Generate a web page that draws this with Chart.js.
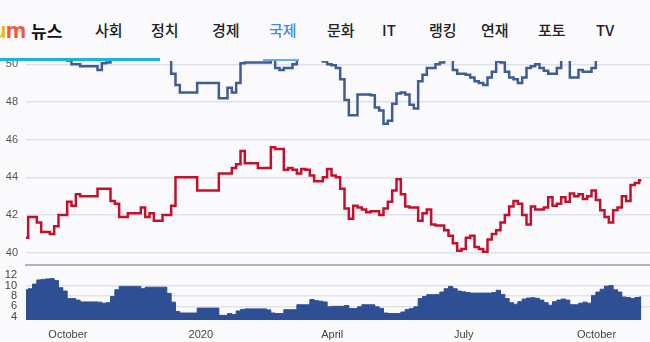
<!DOCTYPE html>
<html lang="ko">
<head>
<meta charset="utf-8">
<title>국제 - 지지율 추이</title>
<script src="https://cdn.jsdelivr.net/npm/chart.js@4"></script>
<style>
  body { margin: 0; width: 650px; height: 342px; overflow: hidden; background: #fafafd; position: relative; font-family: "Noto Sans CJK KR", "Noto Sans", sans-serif; }
  canvas { position: absolute; left: 0; }
  #main { top: 0; }
  #spread { top: 264px; }
  #gnb { position: absolute; top: 0; left: 0; width: 650px; height: 61px; background: #fafafd; z-index: 5; }
  #gnb .logo { position: absolute; left: -7px; top: 16px; font: bold 21px "Noto Sans", sans-serif; letter-spacing: -1px; }
  #gnb .home { position: absolute; left: 31px; top: 18px; font-size: 17px; font-weight: 700; color: #111; }
  #gnb a { position: absolute; top: 19px; font-size: 15px; font-weight: 500; color: #222; text-decoration: none; }
  #gnb a.on { color: #3a8ee6; }
  #gnb .bar { position: absolute; left: 0; top: 58px; width: 160px; height: 3px; background: #1bb5d8; }
  #gnb .line { position: absolute; left: 263px; top: 59px; width: 36px; height: 2px; background: #6aa8f0; }
</style>
</head>
<body>
<div id="gnb">
  <span class="logo"><span style="color:#e9c10f">u</span><span style="color:#f2583a">m</span></span>
  <span class="home">뉴스</span>
  <a style="left:95px">사회</a>
  <a style="left:151px">정치</a>
  <a style="left:212px">경제</a>
  <a class="on" style="left:269px">국제</a>
  <a style="left:327px">문화</a>
  <a style="left:382px">IT</a>
  <a style="left:429px">랭킹</a>
  <a style="left:481px">연재</a>
  <a style="left:538px">포토</a>
  <a style="left:596px">TV</a>
  <i class="bar"></i><i class="line"></i>
</div>
<canvas id="main" width="650" height="266"></canvas>
<canvas id="spread" width="650" height="78"></canvas>
<script>
// 3일 간격 여론조사 평균 (2019-09-02 시작)
const stepDays = 3;

const approve = [
  40.8, 41.9, 41.9, 41.6, 41.1, 41.1, 41.0, 41.4, 42.0, 42.0,
  42.7, 42.5, 43.1, 43.0, 43.0, 43.0, 43.0, 43.4, 43.4, 43.4,
  42.75, 42.6, 41.9, 41.9, 42.1, 42.1, 42.1, 42.4, 41.9, 42.1,
  41.7, 41.7, 42.0, 42.0, 42.5, 44.0, 44.0, 44.0, 44.0, 44.0,
  43.3, 43.3, 43.3, 43.3, 43.3, 44.2, 44.2, 44.2, 44.5, 44.7,
  45.4, 44.75, 44.75, 44.75, 44.5, 44.5, 44.5, 45.6, 45.5, 45.5,
  44.4, 44.5, 44.4, 44.2, 44.45, 44.4, 44.1, 43.8, 43.8, 44.0,
  44.45, 44.1, 44.0, 43.4, 42.35, 41.8, 42.5, 42.4, 42.3, 42.15,
  42.2, 42.2, 42.0, 42.35, 42.7, 43.3, 43.9, 43.1, 42.45, 42.4,
  42.4, 41.7, 42.1, 42.3, 41.5, 41.45, 41.45, 41.2, 40.9, 40.5,
  40.1, 40.2, 40.8, 40.9, 40.3, 40.2, 40.05, 40.7, 41.0, 41.2,
  41.6, 42.0, 42.45, 42.75, 42.6, 42.0, 41.5, 42.45, 42.3, 42.3,
  42.4, 42.95, 42.5, 42.6, 42.95, 42.7, 43.15, 43.0, 43.1, 42.85,
  43.0, 43.3, 42.8, 42.25, 41.9, 41.6, 42.25, 42.4, 43.0, 42.75,
  43.6, 43.7, 43.85
];

const disapprove = [
  50.6, 51.3, 52.2, 52.7, 52.3, 52.4, 52.35, 52.4, 51.6, 50.95,
  50.2, 50.0, 50.0, 49.9, 49.9, 49.9, 49.9, 49.7, 50.05, 50.1,
  50.65, 51.8, 51.75, 51.75, 51.95, 51.95, 51.95, 51.8, 51.6, 51.8,
  51.4, 51.4, 51.7, 50.5, 49.5, 48.9, 48.5, 48.5, 48.5, 48.5,
  49.0, 49.0, 49.0, 49.0, 49.0, 48.2, 48.2, 48.75, 48.5, 49.0,
  50.05, 50.1, 50.1, 50.1, 50.1, 50.1, 50.1, 50.3, 49.8, 49.7,
  49.8, 49.8, 50.0, 50.5, 50.75, 50.7, 51.4, 50.9, 50.8, 50.15,
  50.0, 49.95, 49.8, 49.2, 48.1, 47.3, 47.3, 48.4, 48.4, 48.4,
  48.35, 47.7, 47.55, 46.85, 47.0, 47.9, 48.45, 48.5, 48.4, 47.85,
  47.65, 49.1, 49.45, 49.8, 49.8, 50.0, 50.1, 50.6, 50.75, 49.7,
  49.5, 49.5, 49.45, 49.3, 49.1, 49.0, 48.9, 49.3, 49.6, 50.15,
  50.1, 49.6, 49.3, 49.2, 49.0, 49.3, 49.8, 49.9, 50.0, 49.8,
  49.65, 49.5, 49.5, 49.8, 50.35, 50.3, 49.3, 49.3, 49.7, 49.6,
  49.6, 49.8, 51.55, 51.55, 51.8, 51.6, 51.45, 51.15, 50.8, 50.45,
  51.1, 51.4, 51.6
];

const spread = [
  9.2, 9.4, 10.3, 11.1, 11.2, 11.3, 11.35, 11.0, 9.6, 8.95,
  7.5, 7.5, 7.2, 6.85, 6.85, 6.85, 6.85, 6.8, 6.6, 6.7,
  7.9, 9.2, 9.85, 9.85, 9.85, 9.85, 9.85, 9.4, 9.7, 9.7,
  9.7, 9.7, 9.7, 8.5, 6.8, 5.0, 4.7, 4.7, 4.7, 4.7,
  5.65, 5.65, 5.65, 5.65, 5.65, 4.25, 4.25, 4.6, 4.4, 5.1,
  5.4, 5.5, 5.5, 5.5, 5.5, 5.5, 5.3, 4.7, 4.6, 4.6,
  5.35, 5.35, 5.35, 6.3, 6.3, 6.3, 7.3, 7.1, 7.0, 6.85,
  5.9, 6.0, 6.0, 6.0, 6.15, 5.55, 5.55, 5.9, 6.3, 6.3,
  6.3, 5.9, 5.6, 4.7, 4.6, 4.6, 4.6, 4.9, 5.4, 5.55,
  5.9, 7.5, 7.9, 8.25, 8.25, 8.3, 8.75, 9.4, 9.85, 9.4,
  8.95, 8.8, 8.65, 8.55, 8.55, 8.55, 8.55, 8.55, 8.65, 9.1,
  8.3, 7.5, 6.7, 6.4, 6.9, 7.4, 7.6, 7.65, 7.55, 7.2,
  6.7, 6.2, 6.9, 7.2, 7.4, 7.2, 6.3, 6.3, 6.6, 6.8,
  6.6, 8.1, 8.75, 9.3, 9.9, 10.0, 9.2, 8.75, 7.8, 7.7,
  7.5, 7.7, 7.8
];

// 눈금 (x는 시작일로부터의 일수)
const tickDays = [29, 121, 212, 303, 395];
const tickLabels = ['October', '2020', 'April', 'July', 'October'];
const mainTicks = [40, 42, 44, 46, 48, 50, 52];
const spreadTicks = [4, 6, 8, 10, 12];

Chart.defaults.font.family = '"Liberation Sans", Arial, sans-serif';
Chart.defaults.animation = false;

const toPoints = arr => arr.map((v, i) => ({ x: i * stepDays, y: v }));

// 축 크기 고정 (라벨 여백이 차트 영역을 밀지 않도록)
const fixY = w => s => { s.width = w; s.paddingTop = 0; s.paddingBottom = 0; };
const fixX = h => s => { s.height = h; s.paddingLeft = 0; s.paddingRight = 0; };

new Chart(document.getElementById('main'), {
  type: 'line',
  data: {
    datasets: [
      { data: toPoints(disapprove), borderColor: '#3f5c93', borderWidth: 2.5, pointRadius: 0, stepped: 'middle' },
      { data: toPoints(approve), borderColor: '#c4102c', borderWidth: 2.5, pointRadius: 0, stepped: 'middle' }
    ]
  },
  options: {
    responsive: false,
    plugins: { legend: { display: false }, tooltip: { enabled: false } },
    scales: {
      x: {
        type: 'linear', min: 0, max: 432,
        ticks: { display: false },
        grid: { display: false, drawTicks: false },
        border: { color: '#b4b4bc', width: 2 },
        afterFit: fixX(1)
      },
      y: {
        min: 39.35, max: 53.41,
        afterBuildTicks: s => { s.ticks = mainTicks.map(v => ({ value: v })); },
        afterFit: fixY(26),
        ticks: { color: '#555', font: { size: 11 }, padding: 8, autoSkip: false },
        grid: { color: '#e0e0ea', lineWidth: 1.5, drawTicks: false },
        border: { display: false }
      }
    }
  }
});

new Chart(document.getElementById('spread'), {
  type: 'line',
  data: {
    datasets: [{
      data: toPoints(spread),
      borderColor: '#2f4f94', backgroundColor: '#2f4f94',
      borderWidth: 1, fill: 'start', pointRadius: 0, stepped: 'middle'
    }]
  },
  options: {
    responsive: false,
    plugins: { legend: { display: false }, tooltip: { enabled: false } },
    scales: {
      x: {
        type: 'linear', min: 0, max: 432,
        afterBuildTicks: s => { s.ticks = tickDays.map(v => ({ value: v })); },
        afterFit: fixX(22),
        ticks: {
          callback: (v, i) => tickLabels[i],
          color: '#444', font: { size: 11 }, padding: 8, maxRotation: 0, autoSkip: false
        },
        grid: { display: false, drawTicks: false },
        border: { display: false }
      },
      y: {
        min: 3.35, max: 14.18,
        afterBuildTicks: s => { s.ticks = spreadTicks.map(v => ({ value: v })); },
        afterFit: fixY(26),
        ticks: { color: '#444', font: { size: 11 }, padding: 9, autoSkip: false },
        grid: {
          color: c => (c.tick && c.tick.value >= 6 && c.tick.value <= 10) ? '#e2e2ea' : 'rgba(0,0,0,0)',
          lineWidth: 1.5, drawTicks: false
        },
        border: { display: false }
      }
    }
  }
});
</script>
</body>
</html>
